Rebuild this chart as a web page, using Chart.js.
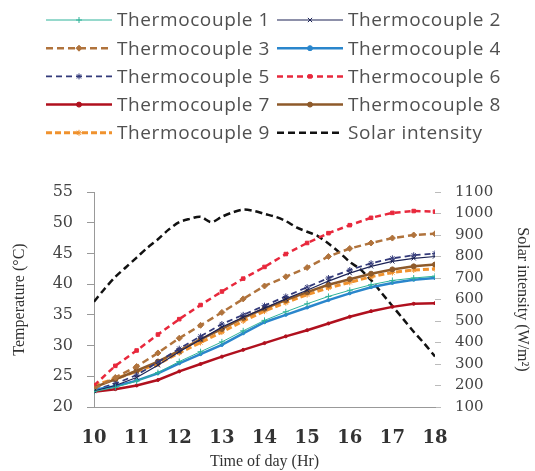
<!DOCTYPE html>
<html>
<head>
<meta charset="utf-8">
<script src="https://cdn.jsdelivr.net/npm/chart.js@4.4.1/dist/chart.umd.min.js"></script>
<style>
  html, body { margin: 0; padding: 0; background: #fff; }
</style>
</head>
<body>
<canvas id="chart" width="535" height="471"></canvas>
<script>
// time of day (h), read every half hour
const hours = [10, 10.5, 11, 11.5, 12, 12.5, 13, 13.5, 14, 14.5, 15, 15.5, 16, 16.5, 17, 17.5, 18];
// solar intensity read every quarter hour
const solarHours = [10, 10.25, 10.5, 10.75, 11, 11.25, 11.5, 11.75, 12, 12.25, 12.5, 12.75, 13, 13.25, 13.5, 13.75,
  14, 14.25, 14.5, 14.75, 15, 15.25, 15.5, 15.75, 16, 16.25, 16.5, 16.75, 17, 17.25, 17.5, 17.75, 18];

const tc1 = [22.5, 23.2, 24.2, 25.6, 27.4, 29.0, 30.6, 32.4, 34.1, 35.5, 36.8, 38.0, 39.0, 39.9, 40.6, 41.0, 41.3];
const tc2 = [22.6, 23.5, 24.8, 26.8, 29.0, 31.0, 33.0, 34.6, 36.1, 37.6, 39.0, 40.5, 41.8, 42.9, 43.7, 44.2, 44.5];
const tc3 = [23.0, 24.8, 26.6, 28.8, 31.2, 33.3, 35.4, 37.6, 39.7, 41.2, 42.7, 44.5, 45.8, 46.7, 47.5, 48.0, 48.2];
const tc4 = [22.8, 23.4, 24.3, 25.5, 27.1, 28.6, 30.1, 32.0, 33.8, 35.0, 36.2, 37.4, 38.5, 39.5, 40.2, 40.7, 41.0];
const tc5 = [22.8, 23.8, 25.2, 27.3, 29.5, 31.5, 33.5, 35.0, 36.5, 38.0, 39.5, 41.0, 42.3, 43.4, 44.2, 44.7, 45.0];
const tc6 = [23.5, 26.7, 29.2, 31.8, 34.3, 36.6, 38.8, 40.9, 42.8, 44.9, 46.7, 48.3, 49.6, 50.8, 51.6, 51.9, 51.8];
const tc7 = [22.5, 22.9, 23.5, 24.4, 25.8, 27.0, 28.2, 29.3, 30.4, 31.5, 32.5, 33.6, 34.7, 35.6, 36.3, 36.8, 36.9];
const tc8 = [23.2, 24.5, 25.9, 27.4, 29.2, 31.0, 32.7, 34.5, 36.0, 37.4, 38.7, 39.9, 40.8, 41.7, 42.4, 42.9, 43.2];
const tc9 = [23.5, 24.6, 25.8, 27.0, 28.8, 30.5, 32.2, 34.0, 35.6, 37.0, 38.3, 39.4, 40.3, 41.2, 41.9, 42.3, 42.5];
const solar = [590, 650, 705, 750, 795, 840, 880, 925, 960, 975, 985, 960, 985, 1005, 1018, 1012,
  998, 985, 965, 935, 915, 895, 860, 820, 775, 740, 690, 630, 570, 510, 450, 395, 335];

const toPoints = (xs, ys) => xs.map((x, i) => ({ x: x, y: ys[i] }));

function tcSet(label, values, color, width, dash, style, radius) {
  return {
    label: label,
    data: toPoints(hours, values),
    yAxisID: 'y',
    borderColor: color,
    borderWidth: width,
    borderDash: dash,
    pointStyle: style,
    pointRadius: radius,
    pointBackgroundColor: color,
    pointBorderColor: color,
    pointBorderWidth: 1,
    tension: 0
  };
}

const datasets = [
  tcSet('Thermocouple 1', tc1, '#2fb39a', 1, [], 'cross', 3),
  tcSet('Thermocouple 2', tc2, '#1c2355', 1.2, [], 'crossRot', 3),
  tcSet('Thermocouple 3', tc3, '#b0733c', 2.5, [7, 4], 'rectRot', 3),
  tcSet('Thermocouple 4', tc4, '#2a86cc', 2.5, [], 'circle', 1.5),
  tcSet('Thermocouple 5', tc5, '#333a7a', 1.8, [6, 4], 'star', 3),
  tcSet('Thermocouple 6', tc6, '#e8283c', 2.5, [6, 4], 'rect', 2.5),
  tcSet('Thermocouple 7', tc7, '#b0101e', 2.5, [], 'circle', 1.5),
  tcSet('Thermocouple 8', tc8, '#8e5a2a', 2.5, [], 'circle', 2.5),
  tcSet('Thermocouple 9', tc9, '#f0922e', 3, [6, 3], 'star', 3),
  {
    label: 'Solar intensity',
    data: toPoints(solarHours, solar),
    yAxisID: 'y1',
    borderColor: '#111111',
    borderWidth: 2.5,
    borderDash: [7, 4],
    pointRadius: 0,
    tension: 0.3
  }
];

// two-column legend above the plot
const gridLegend = {
  id: 'gridLegend',
  afterDraw(chart) {
    const ctx = chart.ctx;
    chart.data.datasets.forEach((ds, i) => {
      const col = i % 2;
      const row = Math.floor(i / 2);
      const x0 = col ? 277 : 46;
      const y = 20 + row * 28.2;
      ctx.save();
      ctx.strokeStyle = ds.borderColor;
      ctx.lineWidth = ds.borderWidth;
      ctx.setLineDash(ds.borderDash || []);
      ctx.beginPath();
      ctx.moveTo(x0, y);
      ctx.lineTo(x0 + 66, y);
      ctx.stroke();
      ctx.setLineDash([]);
      if (ds.pointRadius > 0 && Chart.helpers && Chart.helpers.drawPoint) {
        ctx.fillStyle = ds.pointBackgroundColor;
        ctx.strokeStyle = ds.pointBorderColor;
        ctx.lineWidth = ds.pointBorderWidth;
        Chart.helpers.drawPoint(ctx, {
          pointStyle: ds.pointStyle,
          radius: Math.max(ds.pointRadius, 2.5),
          rotation: 0,
          borderWidth: ds.pointBorderWidth
        }, x0 + 33, y);
      }
      ctx.font = '19px "Open Sans"';
      ctx.letterSpacing = '0.6px';
      ctx.fillStyle = '#505050';
      ctx.textBaseline = 'middle';
      ctx.fillText(ds.label, x0 + 71, y + 1);
      ctx.restore();
    });
  }
};

new Chart(document.getElementById('chart'), {
  type: 'line',
  data: { datasets: datasets },
  plugins: [gridLegend],
  options: {
    responsive: false,
    animation: false,
    layout: { padding: { top: 192, left: 0, right: 0, bottom: 0 } },
    plugins: {
      legend: { display: false },
      tooltip: { enabled: false }
    },
    scales: {
      x: {
        type: 'linear',
        min: 10,
        max: 18,
        ticks: {
          stepSize: 1,
          padding: 21,
          color: '#333',
          font: { family: 'DejaVu Serif', size: 18, weight: 'bold' }
        },
        grid: { drawOnChartArea: false, drawTicks: false },
        border: { color: '#999' },
        title: {
          display: true,
          text: 'Time of day (Hr)',
          color: '#333',
          font: { family: 'Liberation Serif', size: 16 },
          padding: { top: 0, bottom: 0 }
        },
        afterFit: (scale) => { scale.height = 64; }
      },
      y: {
        position: 'left',
        min: 20,
        max: 55,
        ticks: {
          stepSize: 5,
          padding: 14,
          color: '#444',
          font: { family: 'DejaVu Serif', size: 16 }
        },
        grid: { drawOnChartArea: false, tickLength: 7, color: '#999' },
        border: { color: '#999' },
        title: {
          display: true,
          text: 'Temperature (°C)',
          color: '#333',
          font: { family: 'Liberation Serif', size: 16 },
          padding: { top: 10, bottom: 0 }
        },
        afterFit: (scale) => { scale.width = 94; }
      },
      y1: {
        position: 'right',
        min: 100,
        max: 1100,
        ticks: {
          stepSize: 100,
          autoSkip: false,
          padding: 14,
          color: '#444',
          font: { family: 'DejaVu Serif', size: 15 },
          callback: (value) => String(value)
        },
        grid: { drawOnChartArea: false, tickLength: 6, color: '#bbb' },
        border: { display: false },
        title: {
          display: true,
          text: 'Solar intensity (W/m²)',
          color: '#333',
          font: { family: 'Liberation Serif', size: 16 },
          padding: { top: 3, bottom: 0 }
        },
        afterFit: (scale) => { scale.width = 100; }
      }
    }
  }
});
</script>
</body>
</html>
